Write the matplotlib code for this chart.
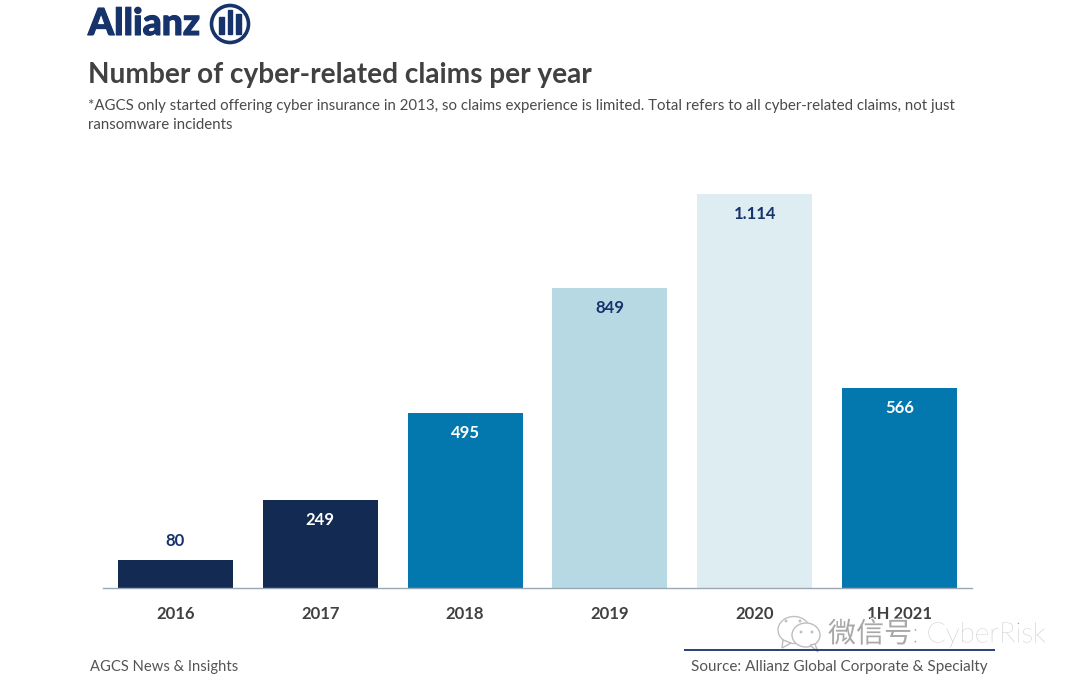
import matplotlib
matplotlib.use("Agg")
import matplotlib.pyplot as plt
import matplotlib.patheffects as pe
from matplotlib.patches import Circle, Ellipse, Rectangle, Polygon

plt.rcParams['font.family'] = ['Lato', 'Noto Sans CJK SC', 'DejaVu Sans']

categories = ['2016', '2017', '2018', '2019', '2020', '1H 2021']
claims = [80, 249, 495, 849, 1114, 566]
value_labels = ['80', '249', '495', '849', '1.114', '566']
bar_colors = ['#132b52', '#132b52', '#0278ae', '#b6d9e4', '#deedf2', '#0278ae']
label_colors = ['#17336b', '#ffffff', '#ffffff', '#17336b', '#17336b', '#ffffff']

title = 'Number of cyber-related claims per year'
note_1 = '*AGCS only started offering cyber insurance in 2013, so claims experience is limited. Total refers to all cyber-related claims, not just'
note_2 = 'ransomware incidents'
footer_left = 'AGCS News & Insights'
footer_right = 'Source: Allianz Global Corporate & Specialty'
watermark = '微信号: CyberRisk'

W, H = 1080, 683
fig = plt.figure(figsize=(W / 100, H / 100), dpi=100, facecolor='white')

# chart area, pixel box
ax = fig.add_axes([103 / W, (H - 588) / H, (972 - 103) / W, (588 - 194) / H])
xs = list(range(len(categories)))
ax.bar(xs, claims, width=0.794, color=bar_colors, zorder=2)
ax.set_xlim(-0.5, 5.5)
ax.set_ylim(0, 1114)
ax.set_yticks([])
ax.set_xticks(xs)
ax.set_xticklabels(categories, fontsize=12, fontweight='bold', color='#404040')
ax.tick_params(axis='x', length=0, pad=13)
for s in ['top', 'left', 'right']:
    ax.spines[s].set_visible(False)
ax.spines['bottom'].set_color('#9aa7b5')
ax.spines['bottom'].set_linewidth(1)
ax.patch.set_alpha(0)

for x, v, lab, c in zip(xs, claims, value_labels, label_colors):
    if v < 100:
        ax.annotate(lab, (x, v), xytext=(0, 13.5), textcoords='offset points', ha='center', va='center',
                    fontsize=12, fontweight='bold', color=c)
    else:
        ax.annotate(lab, (x, v), xytext=(0, -14.5), textcoords='offset points', ha='center', va='center',
                    fontsize=12, fontweight='bold', color=c)

# overlay in pixel coordinates for header, footer, logo
ov = fig.add_axes([0, 0, 1, 1], zorder=5)
ov.set_xlim(0, W)
ov.set_ylim(H, 0)
ov.axis('off')

ov.text(88, 24, 'Allianz', fontsize=26.8, fontweight='black', color='#17336b', va='center', ha='left',
        path_effects=[pe.withStroke(linewidth=0.8, foreground='#17336b')])
ov.add_patch(Circle((230, 24), 18.5, fill=False, ec='#17336b', lw=2.6))
ov.add_patch(Rectangle((219, 17), 4.5, 17, color='#17336b'))
ov.add_patch(Rectangle((227.5, 10), 4.5, 24, color='#17336b'))
ov.add_patch(Rectangle((236, 14), 4.5, 20, color='#17336b'))

ov.text(88, 75, title, fontsize=20.2, fontweight='bold', color='#414141', va='center', ha='left')
ov.text(88, 106, note_1, fontsize=10.8, color='#4a4a4a', va='center', ha='left')
ov.text(88, 125, note_2, fontsize=10.8, color='#4a4a4a', va='center', ha='left')

ov.text(90, 667.5, footer_left, fontsize=10.65, color='#555555', va='center', ha='left')
ov.text(691, 667.5, footer_right, fontsize=11, color='#555555', va='center', ha='left')
ov.plot([684, 995], [650, 650], color='#17336b', lw=1.3, solid_capstyle='butt')

# wechat watermark
wm_edge = '#bdbdbd'
ov.add_patch(Ellipse((794, 630), 32, 27, fc='white', ec=wm_edge, lw=1, alpha=0.95))
ov.add_patch(Polygon([[783, 640], [782, 648], [791, 643]], fc='white', ec=wm_edge, lw=1))
ov.add_patch(Ellipse((806, 635), 28, 24, fc='white', ec=wm_edge, lw=1))
ov.add_patch(Polygon([[810, 645], [818, 652], [815, 644]], fc='white', ec=wm_edge, lw=1))
for px, py in [(786, 621), (800, 621), (801, 632), (812, 632)]:
    ov.add_patch(Circle((px, py), 1.4, fc=wm_edge, ec='none'))
ov.text(828, 633, watermark, fontsize=20.2, color='#a8a8a8', va='center', ha='left', fontweight='light',
        path_effects=[pe.withStroke(linewidth=2, foreground='white')])

fig.savefig('out.png', dpi=100)
